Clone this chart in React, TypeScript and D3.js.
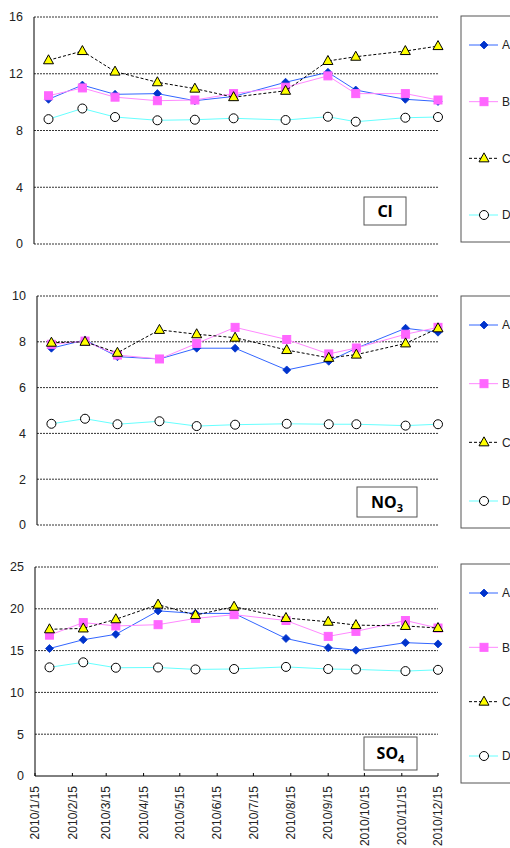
import React from "react";
import * as d3 from "d3";

// sampling dates (x) and monthly tick labels
const dates = ["2010-01-27", "2010-02-24", "2010-03-23", "2010-04-27", "2010-05-28", "2010-06-29",
  "2010-08-11", "2010-09-15", "2010-10-08", "2010-11-18", "2010-12-15"];
const tickDates = ["2010-01-15", "2010-02-15", "2010-03-15", "2010-04-15", "2010-05-15", "2010-06-15",
  "2010-07-15", "2010-08-15", "2010-09-15", "2010-10-15", "2010-11-15", "2010-12-15"];
const seriesNames = ["A", "B", "C", "D"];

// Cl
const clA = [10.2, 11.2, 10.55, 10.6, 10.1, 10.4, 11.4, 12.1, 10.85, 10.2, 10.05];
const clB = [10.45, 11.0, 10.35, 10.1, 10.15, 10.6, 11.05, 11.85, 10.6, 10.6, 10.15];
const clC = [12.95, 13.6, 12.15, 11.4, 10.95, 10.35, 10.8, 12.9, 13.2, 13.6, 13.95];
const clD = [8.8, 9.55, 8.95, 8.72, 8.76, 8.86, 8.74, 8.97, 8.62, 8.9, 8.95];

// NO3
const no3A = [7.72, 8.08, 7.35, 7.25, 7.72, 7.72, 6.77, 7.15, 7.72, 8.59, 8.42];
const no3B = [7.89, 8.03, 7.42, 7.25, 7.93, 8.63, 8.1, 7.47, 7.73, 8.33, 8.63];
const no3C = [7.96, 8.0, 7.52, 8.52, 8.33, 8.18, 7.64, 7.3, 7.44, 7.93, 8.59];
const no3D = [4.42, 4.64, 4.4, 4.53, 4.32, 4.38, 4.42, 4.4, 4.4, 4.34, 4.4];

// SO4
const so4A = [15.25, 16.3, 16.95, 19.75, 19.45, 19.45, 16.45, 15.35, 15.05, 15.95, 15.8];
const so4B = [16.85, 18.35, 17.95, 18.1, 18.85, 19.3, 18.6, 16.7, 17.3, 18.6, 17.7];
const so4C = [17.55, 17.65, 18.75, 20.5, 19.25, 20.25, 18.9, 18.45, 18.05, 17.95, 17.7];
const so4D = [13.0, 13.6, 12.95, 12.98, 12.75, 12.8, 13.05, 12.8, 12.75, 12.55, 12.7];

const clTicks = [0, 4, 8, 12, 16];
const no3Ticks = [0, 2, 4, 6, 8, 10];
const so4Ticks = [0, 5, 10, 15, 20, 25];

const parse = d3.timeParse("%Y-%m-%d");
const fmt = d3.timeFormat("%Y/%-m/%-d");

const styles = [
  { line: "#3366FF", dash: null, marker: "diamond", fill: "#0033CC", stroke: "#0033CC" },
  { line: "#FF88FF", dash: null, marker: "square", fill: "#FF66FF", stroke: "#FF66FF" },
  { line: "#000000", dash: "3,2", marker: "triangle", fill: "#FFFF00", stroke: "#000000" },
  { line: "#66FFFF", dash: null, marker: "circle", fill: "#FFFFFF", stroke: "#000000" },
];

const font = "'Liberation Sans', Arial, sans-serif";

const Marker = ({ type, x, y, fill, stroke }) => {
  if (type === "diamond") {
    const p = d3.path();
    p.moveTo(x, y - 4); p.lineTo(x + 4, y); p.lineTo(x, y + 4); p.lineTo(x - 4, y); p.closePath();
    return <path d={p.toString()} fill={fill} stroke={stroke} strokeWidth={0.8} />;
  }
  if (type === "square") {
    return <rect x={x - 4} y={y - 4} width={8} height={8} fill={fill} stroke={stroke} />;
  }
  if (type === "triangle") {
    const p = d3.path();
    p.moveTo(x, y - 5.5); p.lineTo(x + 5, y + 3.5); p.lineTo(x - 5, y + 3.5); p.closePath();
    return <path d={p.toString()} fill={fill} stroke={stroke} strokeWidth={1} />;
  }
  return <circle cx={x} cy={y} r={4.5} fill={fill} stroke={stroke} strokeWidth={1} />;
};

const Panel = ({ cfg }) => {
  const { left, right, top, bottom, max, ticks, series, label, sub, box, legend, xAxis } = cfg;
  const x = d3.scaleTime().domain([parse(tickDates[0]), parse(tickDates[11])]).range([left, right]);
  const y = d3.scaleLinear().domain([0, max]).range([bottom, top]);
  const pts = dates.map(parse);
  const legendY = d3.scalePoint().domain(seriesNames).range([legend.top + 29, legend.bottom - 27]);

  return (
    <g>
      {ticks.map(t => (
        <g key={t}>
          {!(xAxis && t === 0) && (
            <line x1={left} x2={right} y1={y(t)} y2={y(t)} stroke="#333" strokeDasharray="2,1" strokeWidth={1} />
          )}
          <text x={left - 11} y={y(t)} dy="0.35em" textAnchor="end" fontSize={12.5} fill="#222" fontFamily={font}>{t}</text>
        </g>
      ))}
      <line x1={left} x2={left} y1={top} y2={bottom} stroke="#000" strokeWidth={1} />
      {xAxis && (
        <g>
          <line x1={left} x2={right} y1={bottom} y2={bottom} stroke="#000" strokeWidth={1} />
          {tickDates.map(d => (
            <g key={d}>
              <line x1={x(parse(d))} x2={x(parse(d))} y1={bottom} y2={bottom - 3} stroke="#000" />
              <text transform={`translate(${x(parse(d))},${bottom}) rotate(-90)`} x={-10} dy="0.35em"
                textAnchor="end" fontSize={12} fill="#222" fontFamily={font}>{fmt(parse(d))}</text>
            </g>
          ))}
        </g>
      )}
      {series.map((vals, i) => {
        const s = styles[i];
        const line = d3.line<number>().x((_, j) => x(pts[j])).y(v => y(v));
        return (
          <g key={i}>
            <path d={line(vals)} fill="none" stroke={s.line} strokeWidth={1} strokeDasharray={s.dash || undefined} />
            {vals.map((v, j) => (
              <Marker key={j} type={s.marker} x={x(pts[j])} y={y(v)} fill={s.fill} stroke={s.stroke} />
            ))}
          </g>
        );
      })}
      <rect x={box.x} y={box.y} width={box.w} height={box.h} fill="#fff" stroke="#555" strokeWidth={1} />
      <text x={box.x + box.w / 2} y={box.y + box.h / 2} dy="0.36em" textAnchor="middle" fontSize={16}
        fontWeight="bold" fontFamily="'Noto Sans', sans-serif" fill="#000">
        {label}
        {sub && <tspan fontSize={11} dy="4">{sub}</tspan>}
      </text>
      <rect x={461} y={legend.top} width={70} height={legend.bottom - legend.top} fill="#fff" stroke="#555" strokeWidth={1} />
      {seriesNames.map((n, i) => {
        const s = styles[i];
        const ly = legendY(n);
        return (
          <g key={n}>
            <line x1={469} x2={498} y1={ly} y2={ly} stroke={s.line} strokeWidth={1} strokeDasharray={s.dash || undefined} />
            <Marker type={s.marker} x={484} y={ly} fill={s.fill} stroke={s.stroke} />
            <text x={502} y={ly} dy="0.35em" fontSize={12} fill="#222" fontFamily={font}>{n}</text>
          </g>
        );
      })}
    </g>
  );
};

const panels = [
  {
    left: 34, right: 438, top: 17, bottom: 244, max: 16, ticks: clTicks,
    series: [clA, clB, clC, clD], label: "Cl", sub: null,
    box: { x: 364, y: 197, w: 42, h: 28 }, legend: { top: 16, bottom: 242 }, xAxis: false,
  },
  {
    left: 37, right: 438, top: 296, bottom: 525, max: 10, ticks: no3Ticks,
    series: [no3A, no3B, no3C, no3D], label: "NO", sub: "3",
    box: { x: 357, y: 487, w: 60, h: 30 }, legend: { top: 296, bottom: 528 }, xAxis: false,
  },
  {
    left: 35, right: 438, top: 567, bottom: 776, max: 25, ticks: so4Ticks,
    series: [so4A, so4B, so4C, so4D], label: "SO", sub: "4",
    box: { x: 364, y: 737, w: 53, h: 33 }, legend: { top: 564, bottom: 783 }, xAxis: true,
  },
];

export default function App() {
  return (
    <svg width={510} height={848} style={{ position: "absolute", left: 0, top: 0, background: "#fff" }}>
      <rect width={510} height={848} fill="#fff" />
      {panels.map((p, i) => <Panel key={i} cfg={p} />)}
    </svg>
  );
}
